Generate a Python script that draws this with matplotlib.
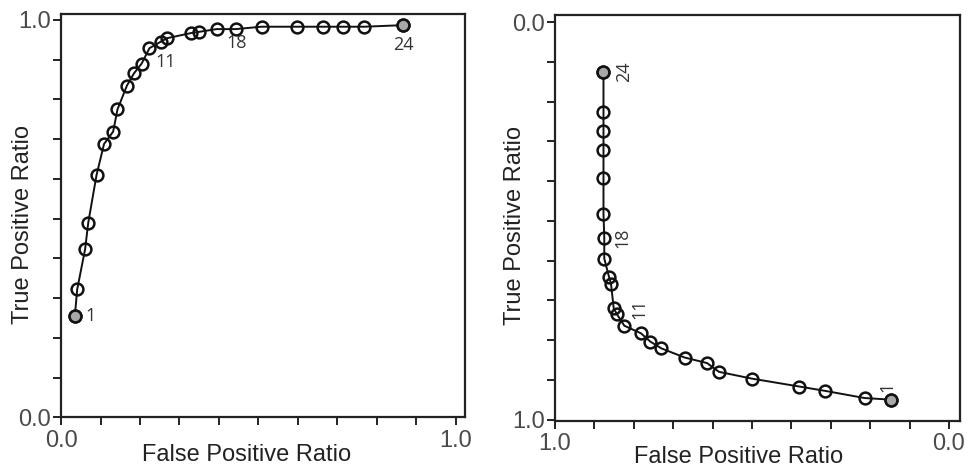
import matplotlib
matplotlib.use('Agg')
import matplotlib.pyplot as plt

# ROC points (24 thresholds each)
left_fpr = [0.035, 0.041, 0.061, 0.069, 0.090, 0.109, 0.132, 0.143, 0.167, 0.185,
            0.204, 0.224, 0.252, 0.268, 0.329, 0.349, 0.394, 0.442, 0.508, 0.597,
            0.664, 0.715, 0.768, 0.867]
left_tpr = [0.255, 0.322, 0.423, 0.490, 0.610, 0.688, 0.719, 0.775, 0.835, 0.866,
            0.890, 0.929, 0.945, 0.954, 0.967, 0.970, 0.977, 0.977, 0.983, 0.983,
            0.983, 0.983, 0.983, 0.987]

right_fpr = [0.148, 0.214, 0.314, 0.380, 0.501, 0.584, 0.614, 0.671, 0.730, 0.758,
             0.782, 0.824, 0.843, 0.851, 0.858, 0.863, 0.875, 0.875, 0.877, 0.877,
             0.877, 0.877, 0.877, 0.877]
right_tpr = [0.950, 0.946, 0.928, 0.917, 0.897, 0.880, 0.858, 0.844, 0.821, 0.804,
             0.783, 0.764, 0.735, 0.720, 0.658, 0.641, 0.595, 0.542, 0.483, 0.393,
             0.322, 0.273, 0.225, 0.125]

labelled = [1, 11, 18, 24]
filled = [1, 24]

left_offsets = {1: (11, 0), 11: (17, 1), 18: (1, -10), 24: (0, -14)}
right_offsets = {1: (-2, 9), 11: (-1, 18), 18: (13, 0), 24: (15, 0)}

ticks = [i / 10 for i in range(11)]
tick_labels = ['0.0'] + [''] * 9 + ['1.0']


def roc_panel(ax, fpr, tpr, offsets, rotation):
    ax.plot(
        fpr, tpr,
        '-o',
        color='#111111',
        lw=1.4,
        markersize=8.5,
        markeredgewidth=1.8,
        markerfacecolor='none',
        markeredgecolor='#111111',
        zorder=3)
    for n in filled:
        ax.plot(
            fpr[n - 1], tpr[n - 1],
            'o',
            markersize=8.5,
            markeredgewidth=1.8,
            markerfacecolor='#a8a8a8',
            markeredgecolor='#111111',
            zorder=4)
    for n in labelled:
        ax.annotate(
            str(n),
            xy=(fpr[n - 1], tpr[n - 1]),
            xytext=offsets[n],
            textcoords='offset points',
            ha='center',
            va='center',
            rotation=rotation,
            fontsize=13,
            family=['Open Sans', 'DejaVu Sans'],
            color='#333333')
    ax.set_xticks(ticks)
    ax.set_yticks(ticks)
    ax.set_xticklabels(tick_labels)
    ax.set_yticklabels(tick_labels)
    for s in ax.spines.values():
        s.set_linewidth(1.6)
        s.set_color('#222222')
    ax.tick_params(
        axis='both',
        direction='out',
        length=6,
        width=1.4,
        colors='#222222',
        labelcolor='#4a4a4a',
        labelsize=17)
    ax.tick_params(axis='x', pad=3)
    ax.tick_params(axis='y', pad=1)
    ax.set_xlabel(
        'False Positive Ratio',
        fontsize=17,
        color='#222222')
    ax.set_ylabel(
        'True Positive Ratio',
        fontsize=17,
        color='#222222')
    ax.xaxis.label.set_va('center')
    ax.yaxis.label.set_va('center')


plt.rcParams['font.family'] = ['Liberation Sans', 'DejaVu Sans']

fig = plt.figure(figsize=(9.7, 4.7), dpi=100)

ax1 = fig.add_axes([0.0629, 0.1121, 0.4165, 0.8581])
roc_panel(ax1, left_fpr, left_tpr, left_offsets, 0)
ax1.set_xlim(0, 1.023)
ax1.set_ylim(0, 1.015)
ax1.xaxis.set_label_coords(0.46, -0.093)
ax1.yaxis.set_label_coords(-0.094, 0.479)

ax2 = fig.add_axes([0.5722, 0.1049, 0.4175, 0.8632])
roc_panel(ax2, right_fpr, right_tpr, right_offsets, 90)
ax2.set_xlim(1.0, -0.028)
ax2.set_ylim(1.003, -0.018)
ax2.xaxis.set_label_coords(0.454, -0.089)
ax2.yaxis.set_label_coords(-0.099, 0.48)

fig.savefig('out.png', dpi=100)
plt.close(fig)
